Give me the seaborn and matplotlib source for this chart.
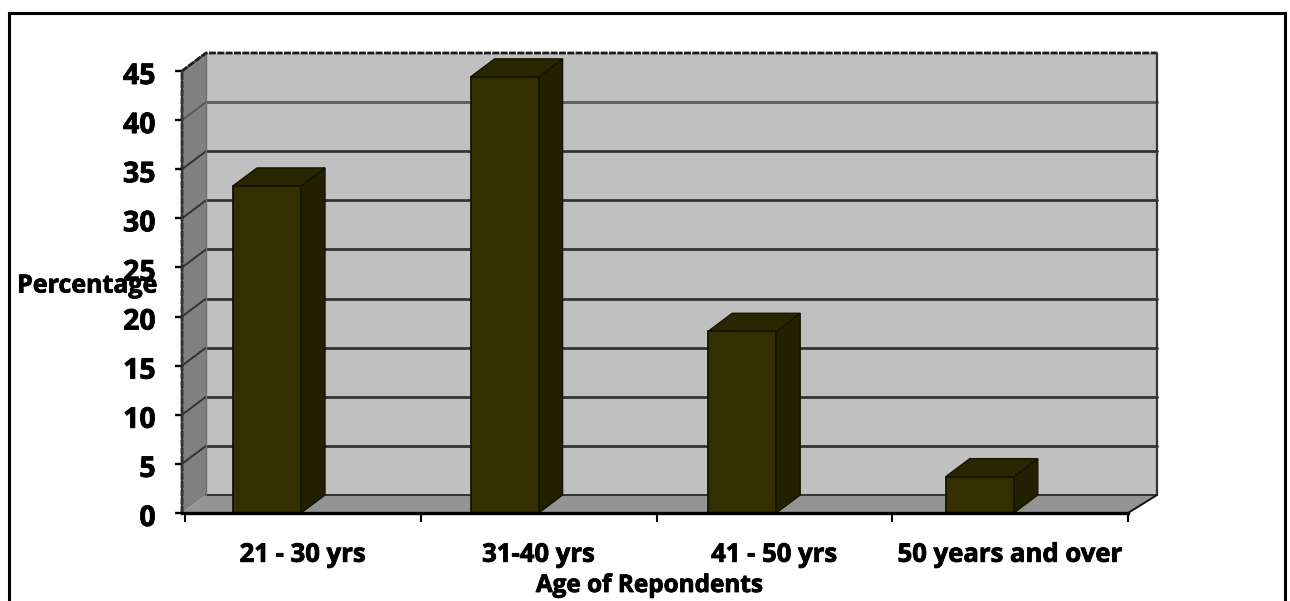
import matplotlib
matplotlib.use("Agg")
import matplotlib.pyplot as plt
import matplotlib.patheffects as pe
from matplotlib.lines import Line2D
from matplotlib.patches import Polygon
from matplotlib.transforms import ScaledTranslation
import numpy as np
import pandas as pd
import seaborn as sns

# Survey shares by age group
age_groups = ["21 - 30 yrs", "31-40 yrs", "41 - 50 yrs", "50 years and over"]
percentages = [33.3, 44.4, 18.5, 3.7]
y_ticks = [0, 5, 10, 15, 20, 25, 30, 35, 40, 45]

W, H = 1290, 601
FONT = "Open Sans"
sns.set_theme(style="white")
plt.rcParams["font.family"] = FONT

fig = plt.figure(figsize=(W / 100, H / 100), dpi=100, facecolor="white")
heavy = [pe.withStroke(linewidth=0.6, foreground="black")]

# Axes placed in pixels; the front plane of the fake 3D box fills it
px_left, px_right, px_top, px_bottom = 182, 1128, 71, 513
ax = fig.add_axes([px_left / W, 1 - px_bottom / H,
                   (px_right - px_left) / W, (px_bottom - px_top) / H])

frame = pd.DataFrame({"age": age_groups, "pct": percentages})
sns.barplot(data=frame, x="age", y="pct", ax=ax, color="#332F00", saturation=1,
            width=68 / 237.6, edgecolor="#141400", linewidth=1.3, zorder=3)

# Data-unit conversions
px_per_cat = 237.6
px_per_pct = (px_bottom - px_top) / 45
x0 = -(267 - px_left) / px_per_cat
x1 = x0 + (px_right - px_left) / px_per_cat
ax.set_xlim(x0, x1)
ax.set_ylim(0, 45)
dx = 24 / px_per_cat
dx_right = 29 / px_per_cat
dy = 18 / px_per_pct
back_right = x1 + dx_right

poly_kw = dict(clip_on=False, joinstyle="miter")
# Back wall, side wall and floor
ax.add_patch(Polygon([(x0 + dx, dy), (back_right, dy), (back_right, 45 + dy), (x0 + dx, 45 + dy)],
                     facecolor="#C0C0C0", edgecolor="none", zorder=0, **poly_kw))
ax.add_patch(Polygon([(x0, 0), (x0 + dx, dy), (x0 + dx, 45 + dy), (x0, 45)],
                     facecolor="#808080", edgecolor="none", zorder=0, **poly_kw))
ax.add_patch(Polygon([(x0, 0), (x1, 0), (back_right, dy), (x0 + dx, dy)],
                     facecolor="#949494", edgecolor="none", zorder=0.2, **poly_kw))

# Gridlines run along the back wall and fold down the side wall
for v in y_ticks:
    col = "#333333" if v < 40 else "#5a5a5a"
    if v > 0:
        ax.plot([x0, x0 + dx], [v, v + dy], color=col, lw=1.4, clip_on=False, zorder=0.5)
    if v < 45:
        ax.plot([x0 + dx, back_right], [v + dy, v + dy], color=col,
                lw=2.0 if v else 1.4, clip_on=False, zorder=0.5)

# Box outline
ax.plot([x0, x0, x0 + dx, back_right], [0, 45, 45 + dy, 45 + dy], color="#1c1c1c", lw=2.0,
        ls=(0, (2.5, 0.5)), clip_on=False, zorder=1)
ax.plot([back_right, back_right], [dy, 45 + dy], color="#333333", lw=1.6, clip_on=False, zorder=1)
ax.plot([x0, x0], [0, 45], color="#333333", lw=1.4, clip_on=False, zorder=1)
ax.plot([x1, back_right], [0, dy], color="#111111", lw=1.4, clip_on=False, zorder=1)
ax.plot([x0 + dx, x0 + dx], [dy, 45 + dy], color="#707070", lw=1.0, clip_on=False, zorder=0.6)

# Side and top faces of each bar
half = 68 / 237.6 / 2
for i, v in enumerate(percentages):
    ax.add_patch(Polygon([(i + half, 0), (i + half + dx, dy), (i + half + dx, v + dy), (i + half, v)],
                         facecolor="#222000", edgecolor="#141400", lw=1.0, zorder=2, **poly_kw))
    ax.add_patch(Polygon([(i - half, v), (i + half, v), (i + half + dx, v + dy), (i - half + dx, v + dy)],
                         facecolor="#2A2700", edgecolor="#141400", lw=1.0, zorder=2, **poly_kw))

# Axes styling: category ticks sit on band edges, labels in band centres
sns.despine(ax=ax, left=True, right=True, top=True, bottom=False)
ax.spines["bottom"].set_color("black")
ax.spines["bottom"].set_linewidth(2.4)
ax.spines["bottom"].set_zorder(4)
edge_start = x0 + 3 / px_per_cat
edges = edge_start + np.arange(5) * (943 / 4) / px_per_cat
centres = (edges[:-1] + edges[1:]) / 2
ax.set_xticks(edges, labels=[""] * 5)
ax.set_xticks(centres, labels=age_groups, minor=True)
ax.tick_params(axis="x", which="major", length=6.5, width=1.5, color="black", bottom=True)
ax.tick_params(axis="x", which="minor", length=0, pad=20, labelsize=18.5)
for lab in ax.get_xticklabels(minor=True):
    lab.set_fontweight("bold")
    lab.set_color("black")
    lab.set_path_effects(heavy)
ax.set_yticks(y_ticks)
ax.tick_params(axis="y", length=5, width=1.7, color="black", left=True, pad=14, labelsize=20.5,
               labelcolor="black")
shift_down = ScaledTranslation(0, -2 / 100, fig.dpi_scale_trans)
for lab in ax.get_yticklabels():
    lab.set_fontweight("bold")
    lab.set_path_effects(heavy)
    lab.set_transform(lab.get_transform() + shift_down)
ax.set_xlabel("")
ax.set_ylabel("")
ax.set_facecolor("none")

fig.text(87.5 / W, 1 - 286 / H, "Percentage", ha="center", va="center",
         fontsize=18, fontweight="bold", color="black", path_effects=heavy)
fig.text(649 / W, 1 - 586 / H, "Age of Repondents", ha="center", va="center",
         fontsize=17.5, fontweight="bold", color="black", path_effects=heavy)

# Outer border, open at the bottom edge
for xs, ys in [((9, 9), (H, 13)), ((9, 1285), (13, 13)), ((1285, 1285), (13, H))]:
    fig.add_artist(Line2D([x / W for x in xs], [1 - y / H for y in ys],
                          color="black", lw=2.2, solid_capstyle="projecting"))

fig.savefig("out.png", dpi=100, facecolor="white")
